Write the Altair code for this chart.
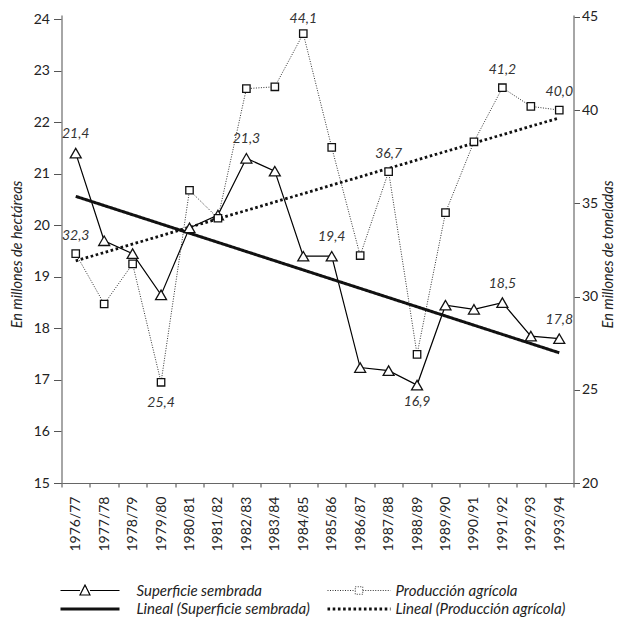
import altair as alt
import pandas as pd

seasons = ["1976/77", "1977/78", "1978/79", "1979/80", "1980/81", "1981/82",
           "1982/83", "1983/84", "1984/85", "1985/86", "1986/87", "1987/88",
           "1988/89", "1989/90", "1990/91", "1991/92", "1992/93", "1993/94"]
superficie = [21.4, 19.7, 19.45, 18.65, 19.95, 20.2, 21.3, 21.05, 19.4, 19.4,
              17.24, 17.18, 16.9, 18.45, 18.37, 18.5, 17.85, 17.8]
produccion = [32.3, 29.6, 31.75, 25.4, 35.7, 34.2, 41.15, 41.25, 44.1, 38.0,
              32.2, 36.7, 26.9, 34.5, 38.3, 41.2, 40.2, 40.0]
series_names = ["Superficie sembrada", "Producción agrícola",
                "Lineal (Superficie sembrada)", "Lineal (Producción agrícola)"]
sup_lab_above = [0, 6, 9, 15, 17]
sup_lab_below = [12]
prod_lab_above = [0, 11, 15, 17]
prod_lab_top = [8]
prod_lab_below = [3]
left_ticks = list(range(15, 25))
right_ticks = [20, 25, 30, 35, 40, 45]

df = pd.DataFrame({"i": list(range(len(seasons))), "season": seasons,
                   "sup": superficie, "prod": produccion})

FONT = "Lato"
TXT = "#222222"
W, H = 512, 468

season_js = "[" + ",".join("'" + s + "'" for s in seasons) + "]"
x_axis = alt.Axis(
    values=[k - 0.5 for k in range(len(seasons) + 1)],
    labelExpr=season_js + "[round(datum.value + 0.5)] || ''",
    labelOffset=W / len(seasons) / 2, labelAngle=-90, labelAlign="right",
    labelBaseline="middle", labelFlush=False, labelOverlap=False,
    labelFont=FONT, labelFontSize=14, labelColor=TXT, labelPadding=9,
    tickSize=4, tickColor="#444", domainColor="#666", domainWidth=1.2,
    grid=False, title=None)
X = alt.X("i:Q", scale=alt.Scale(domain=[-0.5, len(seasons) - 0.5], nice=False, zero=False),
          axis=x_axis)

left_scale = alt.Scale(domain=[15, 24.08], nice=False, zero=False)
right_scale = alt.Scale(domain=[20, 45.1], nice=False, zero=False)

left_axis = alt.Axis(values=left_ticks, grid=False, tickSize=8, tickColor="#555",
                     domainColor="#888", domainWidth=1.5, labelFont=FONT, labelFontSize=14,
                     labelColor=TXT, labelPadding=4,
                     title="En millones de hectáreas", titleFont=FONT, titleFontStyle="italic",
                     titleFontWeight="normal", titleFontSize=14.5, titleColor=TXT,
                     titleAngle=270, titleBaseline="middle", titleAlign="center",
                     titleX=-44.5, titleY=239)
right_axis = alt.Axis(orient="right", values=right_ticks, grid=False, tickSize=6,
                      tickColor="#555", domainColor="#888", domainWidth=1.5, labelFont=FONT,
                      labelFontSize=14, labelColor=TXT, labelPadding=2,
                      title="En millones de toneladas", titleFont=FONT, titleFontStyle="italic",
                      titleFontWeight="normal", titleFontSize=14.5, titleColor=TXT,
                      titleAngle=270, titleBaseline="middle", titleAlign="center",
                      titleX=35, titleY=239)


def legend(x, y, path, sw, dash, off):
    return alt.Legend(
        title=None, orient="none", legendX=x, legendY=y, symbolType=path,
        symbolSize=100, symbolStrokeWidth=sw, symbolDash=dash,
        symbolStrokeColor="#111", symbolFillColor="white",
        labelFont=FONT, labelFontStyle="italic", labelFontSize=15, labelColor=TXT,
        labelOffset=off, labelLimit=400, padding=0)


base = alt.Chart(df)

sup_line = base.mark_line(strokeWidth=1.2).transform_calculate(
    s1="'" + series_names[0] + "'").encode(
    x=X, y=alt.Y("sup:Q", scale=left_scale, axis=left_axis),
    color=alt.Color("s1:N", scale=alt.Scale(domain=[series_names[0]], range=["#000"]),
                    legend=legend(21, 568, "M-5.9,0H-2M0,0H5.9M-2,0.9L-1,-1.1L0,0.9Z",
                                  1.2, [1, 0], 39)))
prod_line = base.mark_line(strokeWidth=1, strokeDash=[1, 1.5]).transform_calculate(
    s2="'" + series_names[1] + "'").encode(
    x=X, y=alt.Y("prod:Q", scale=right_scale, axis=right_axis),
    stroke=alt.Stroke("s2:N", scale=alt.Scale(domain=[series_names[1]], range=["#333"]),
                      legend=legend(290, 568,
                                    "M-6.3,0H-0.75M0.75,0H6.3M-0.75,-0.75H0.75V0.75H-0.75Z",
                                    1, [1, 1.5], 29)))

sup_trend = base.transform_regression("i", "sup").transform_calculate(
    s3="'" + series_names[2] + "'").mark_line(strokeWidth=3, color="#111").encode(
    x=X, y=alt.Y("sup:Q", scale=left_scale, axis=None),
    strokeDash=alt.StrokeDash("s3:N", scale=alt.Scale(domain=[series_names[2]], range=[[1, 0]]),
                              legend=legend(21, 586.5, "M-5.9,0H5.9", 3, [1, 0], 39)))
prod_trend = base.transform_regression("i", "prod").transform_calculate(
    s4="'" + series_names[3] + "'").mark_line(
    strokeWidth=2.8, strokeDash=[2.6, 2.6], color="#111").encode(
    x=X, y=alt.Y("prod:Q", scale=right_scale, axis=None),
    opacity=alt.Opacity("s4:O", scale=alt.Scale(domain=[series_names[3]], range=[1]),
                        legend=legend(290, 586.5, "M-6.3,0H6.3", 2.8, [2.6, 2.6], 29)))

sup_pts = base.mark_point(shape="triangle-up", size=120, filled=True, fill="white",
                          stroke="#111", strokeWidth=1.3, opacity=1).encode(
    x=X, y=alt.Y("sup:Q", scale=left_scale, axis=None))
prod_pts = base.mark_point(shape="square", size=55, filled=True, fill="white",
                           stroke="#111", strokeWidth=1.3, opacity=1).encode(
    x=X, y=alt.Y("prod:Q", scale=right_scale, axis=None))


def labels(field, scale, idx, dy):
    return base.transform_filter(
        alt.FieldOneOfPredicate(field="i", oneOf=idx)
    ).transform_calculate(
        t="replace(format(datum." + field + ", '.1f'), '.', ',')"
    ).mark_text(font=FONT, fontStyle="italic", fontSize=14, color="#333",
                baseline="middle", align="center", dy=dy).encode(
        x=X, y=alt.Y(field + ":Q", scale=scale, axis=None), text="t:N")


chart = alt.layer(
    sup_line, prod_line, sup_trend, prod_trend, sup_pts, prod_pts,
    labels("sup", left_scale, sup_lab_above, -19),
    labels("sup", left_scale, sup_lab_below, 17),
    labels("prod", right_scale, prod_lab_above, -18),
    labels("prod", right_scale, prod_lab_top, -15),
    labels("prod", right_scale, prod_lab_below, 21),
).resolve_scale(y="independent").properties(
    width=W, height=H,
    padding={"left": 53.5, "top": 7, "right": 43.5, "bottom": 138},
    autosize=alt.AutoSizeParams(type="none"),
    background="white",
).configure_view(stroke=None)

chart.save("out.html", embed_options={"renderer": "svg", "actions": False})
